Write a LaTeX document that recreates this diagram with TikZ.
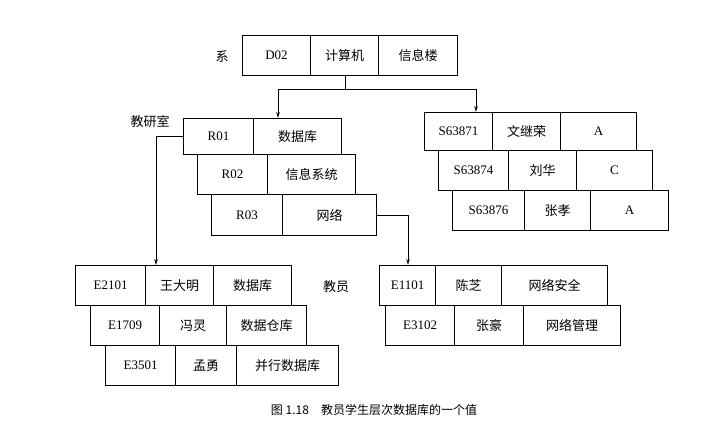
\documentclass[tikz,border=0pt]{standalone}
\usepackage{fontspec}
\usetikzlibrary{arrows.meta}
\setmainfont{Liberation Serif}
\newfontfamily\cjk{Noto Sans CJK SC}
\begin{document}
\begin{tikzpicture}[x=1pt,y=-1pt,font=\fontsize{13}{15}\selectfont,
  arr/.style={line width=1pt,-{Stealth[length=6pt,width=3.5pt]}}]
\useasboundingbox (0,0) rectangle (716,438);
\newcommand\cellbox[6]{% name,x1,x2,y1,y2,text
  \node[draw,line width=1.1pt,inner sep=0,minimum width=#3-#2,minimum height=#5-#4,anchor=north west] (#1) at (#2,#4) {#6};}
% department
\node (lx) at (222,57) {\cjk 系};
\cellbox{d1}{242}{310}{35}{75}{D02}
\cellbox{d2}{310}{378}{35}{75}{\cjk 计算机}
\cellbox{d3}{378}{457}{35}{75}{\cjk 信息楼}
% rooms
\node (lr) at (150,122) {\cjk 教研室};
\cellbox{r11}{183}{253}{118}{154}{R01}
\cellbox{r12}{253}{341}{118}{154}{\cjk 数据库}
\cellbox{r21}{197}{267}{154}{194}{R02}
\cellbox{r22}{267}{355}{154}{194}{\cjk 信息系统}
\cellbox{r31}{211}{282}{194}{235}{R03}
\cellbox{r32}{282}{376}{194}{235}{\cjk 网络}
% students
\cellbox{s11}{424}{492}{112}{150}{S63871}
\cellbox{s12}{492}{560}{112}{150}{\cjk 文继荣}
\cellbox{s13}{560}{636}{112}{150}{A}
\cellbox{s21}{438}{508}{150}{190}{S63874}
\cellbox{s22}{508}{576}{150}{190}{\cjk 刘华}
\cellbox{s23}{576}{652}{150}{190}{C}
\cellbox{s31}{452}{524}{190}{230}{S63876}
\cellbox{s32}{524}{590}{190}{230}{\cjk 张孝}
\cellbox{s33}{590}{668}{190}{230}{A}
% teachers left
\cellbox{e11}{75}{145}{265}{305}{E2101}
\cellbox{e12}{145}{213}{265}{305}{\cjk 王大明}
\cellbox{e13}{213}{291}{265}{305}{\cjk 数据库}
\cellbox{e21}{90}{159}{305}{345}{E1709}
\cellbox{e22}{159}{226}{305}{345}{\cjk 冯灵}
\cellbox{e23}{226}{306}{305}{345}{\cjk 数据仓库}
\cellbox{e31}{105}{175}{345}{385}{E3501}
\cellbox{e32}{175}{236}{345}{385}{\cjk 孟勇}
\cellbox{e33}{236}{338}{345}{385}{\cjk 并行数据库}
\node (le) at (336,287) {\cjk 教员};
% teachers right
\cellbox{f11}{379}{435}{265}{305}{E1101}
\cellbox{f12}{435}{501}{265}{305}{\cjk 陈芝}
\cellbox{f13}{501}{607}{265}{305}{\cjk 网络安全}
\cellbox{f21}{385}{454}{305}{345}{E3102}
\cellbox{f22}{454}{523}{305}{345}{\cjk 张豪}
\cellbox{f23}{523}{620}{305}{345}{\cjk 网络管理}
% connectors
\coordinate (j) at (345,90);
\draw[line width=1pt] (d2.south -| j) -- (j);
\draw[arr] (j) -| (278,118);
\draw[arr] (j) -| (476,112);
\draw[arr] (r11.west) -| (156,265);
\draw[arr] (r32.east) -| (408,265);
% caption
\node (cap) at (374,410) {\fontsize{12}{14}\selectfont\cjk 图 1.18\quad 教员学生层次数据库的一个值};
\end{tikzpicture}
\end{document}
